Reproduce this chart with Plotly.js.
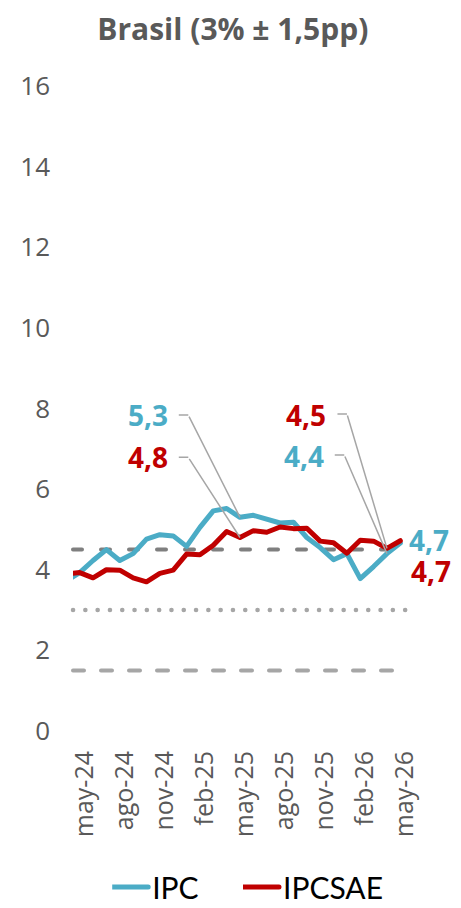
<!DOCTYPE html>
<html><head><meta charset="utf-8">
<script src="https://cdn.plot.ly/plotly-3.0.1.min.js"></script>
<style>
html,body{margin:0;padding:0;background:#fff;}
#chart{width:461px;height:908px;}
.shapelayer path{stroke-linecap:round;}
.scatterlayer .js-line{stroke-linejoin:round;stroke-linecap:round;}
.legendlines path{stroke-linecap:round; d: path("M-15,0H36");}
</style></head><body><div id="chart"></div>
<script>
const months = ['abr-24','may-24','jun-24','jul-24','ago-24','sep-24','oct-24','nov-24','dic-24','ene-25','feb-25','mar-25','abr-25','may-25','jun-25','jul-25','ago-25','sep-25','oct-25','nov-25','dic-25','ene-26','feb-26','mar-26','abr-26','may-26'];
const ipc    = [3.72,3.93,4.23,4.50,4.23,4.40,4.76,4.87,4.84,4.58,5.05,5.46,5.52,5.30,5.35,5.25,5.16,5.18,4.80,4.55,4.25,4.40,3.78,4.08,4.40,4.66];
const ipcsae = [3.90,3.93,3.80,4.00,3.99,3.80,3.70,3.91,3.99,4.39,4.37,4.61,4.95,4.80,4.97,4.93,5.06,5.02,5.03,4.71,4.67,4.41,4.73,4.71,4.53,4.72];
const tickMonths = ['may-24','ago-24','nov-24','feb-25','may-25','ago-25','nov-25','feb-26','may-26'];
const yTicks = [0,2,4,6,8,10,12,14,16];
const targets = [4.5, 3.0, 1.5];
const seriesNames = ['IPC','IPCSAE'];
const titleText = 'Brasil (3% ± 1,5pp)';

const BLUE = '#4bacc6', RED = '#c00000', LEAD = '#a6a6a6';
const fmt = v => v.toFixed(1).replace('.', ',');
const series = {IPC: ipc, IPCSAE: ipcsae};
const colors = {IPC: BLUE, IPCSAE: RED};
const legendOf = {IPC: 'legend', IPCSAE: 'legend2'};

const traces = seriesNames.map(n => ({
  type: 'scatter', mode: 'lines', name: n, x: months, y: series[n],
  line: {color: colors[n], width: 5}, hoverinfo: 'skip', legend: legendOf[n]
}));

const targetStyles = [
  {color: '#7f7f7f', width: 4, dash: '9px,19px'},
  {color: '#a6a6a6', width: 4.5, dash: '0.1px,12.2px'},
  {color: '#a6a6a6', width: 4, dash: '11px,17px'}
];
const shapes = targets.map((t, i) => ({
  type: 'line', xref: 'paper', x0: 0, x1: 1, yref: 'y', y0: t, y1: t,
  line: targetStyles[i], layer: 'below'
}));

const callouts = [
  {s: 'IPC',    m: 'may-25', ax: -51.7, ay: -102.3, hx: -11, tx: -92.5, ty: 102},
  {s: 'IPCSAE', m: 'may-25', ax: -51.7, ay: -80.2,  hx: -11, tx: -92.5, ty: 80.5},
  {s: 'IPCSAE', m: 'abr-26', ax: -40,   ay: -134.4, hx: -11, tx: -80.7, ty: 133.5},
  {s: 'IPC',    m: 'abr-26', ax: -42.7, ay: -98.6,  hx: -11, tx: -82.7, ty: 97.5}
];
const annotations = [];
callouts.forEach(c => {
  const v = series[c.s][months.indexOf(c.m)];
  annotations.push({x: c.m, y: v, xref: 'x', yref: 'y', text: '', showarrow: true,
    ax: c.ax, ay: c.ay, arrowhead: 0, arrowwidth: 1.5, arrowcolor: LEAD});
  annotations.push({x: c.m, y: v, xref: 'x', yref: 'y', text: '', showarrow: true,
    xshift: c.ax, yshift: -c.ay, ax: c.hx, ay: 0, arrowhead: 0, arrowwidth: 1.5, arrowcolor: LEAD});
  annotations.push({x: c.m, y: v, xref: 'x', yref: 'y', text: fmt(v), showarrow: false,
    xshift: c.tx, yshift: c.ty, font: {family: 'Open Sans', size: 28, color: colors[c.s], weight: 'bold'}});
});
const endOffsets = {IPC: {tx: 29, ty: 3}, IPCSAE: {tx: 31, ty: -30}};
seriesNames.forEach(n => {
  const last = months.length - 1;
  annotations.push({x: months[last], y: series[n][last], xref: 'x', yref: 'y', text: fmt(series[n][last]),
    showarrow: false, xshift: endOffsets[n].tx, yshift: endOffsets[n].ty,
    font: {family: 'Open Sans', size: 28, color: colors[n], weight: 'bold'}});
});

const legendBase = {orientation: 'h', xref: 'container', yref: 'container', xanchor: 'left',
  y: 1 - 887/908, yanchor: 'middle',
  font: {family: 'Lato', size: 30, color: '#000'}, bgcolor: 'rgba(0,0,0,0)'};

const layout = {
  width: 461, height: 908,
  margin: {l: 73.33, r: 54.33, t: 86, b: 177, autoexpand: false},
  paper_bgcolor: '#fff', plot_bgcolor: '#fff',
  font: {family: 'Open Sans', color: '#595959'},
  title: {text: titleText, x: 0.505, xanchor: 'center', y: 0.967, yanchor: 'middle',
    font: {family: 'Open Sans', size: 30, color: '#595959', weight: 'bold'}},
  xaxis: {type: 'category', categoryorder: 'array', categoryarray: months,
    range: [0.5, 25.5], tickvals: tickMonths, ticktext: tickMonths, tickangle: -90,
    tickfont: {size: 25, color: '#595959'}, showgrid: false, zeroline: false, showline: false,
    ticks: '', ticklabelstandoff: 14, ticklabelshift: 5, fixedrange: true},
  yaxis: {range: [0, 16], tickvals: yTicks, ticktext: yTicks.map(String),
    tickfont: {size: 26, color: '#595959'}, showgrid: false, zeroline: false, showline: false,
    ticks: '', ticklabelstandoff: 22, fixedrange: true},
  showlegend: true,
  legend: Object.assign({}, legendBase, {x: 0.2434}),
  legend2: Object.assign({}, legendBase, {x: 0.5271}),
  shapes: shapes, annotations: annotations
};

Plotly.newPlot('chart', traces, layout, {staticPlot: true, displayModeBar: false});
</script></body></html>
